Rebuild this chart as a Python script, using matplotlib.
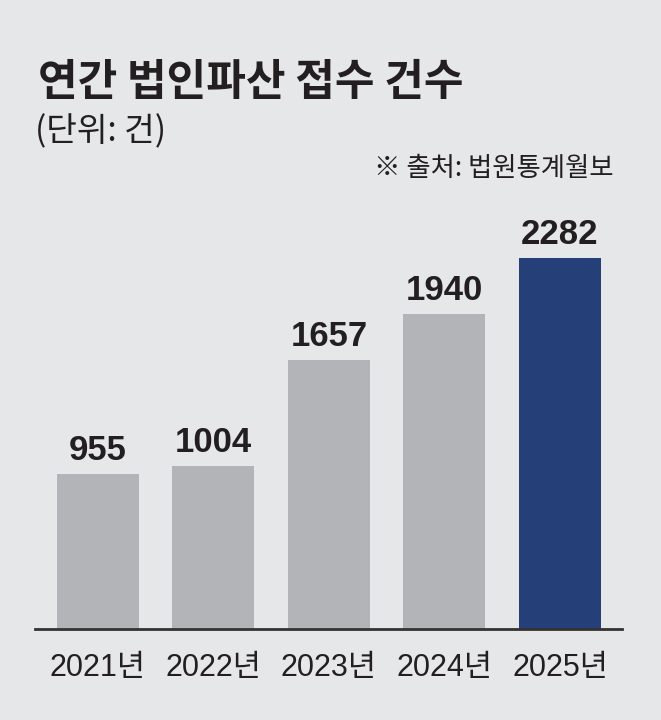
import numpy as np
import matplotlib.pyplot as plt

# data
years = ["2021년", "2022년", "2023년", "2024년", "2025년"]
counts = [955, 1004, 1657, 1940, 2282]
highlight = "2025년"

BG = "#e6e7e9"
GRAY = "#b3b4b7"
NAVY = "#253f78"
INK = "#231f20"

plt.rcParams["font.family"] = ["Noto Sans CJK KR", "DejaVu Sans"]

fig = plt.figure(figsize=(6.61, 7.2), dpi=100, facecolor=BG)
# axes spans the baseline width, bottom at the baseline
ax = fig.add_axes([35 / 661, 91 / 720, 587 / 661, 429 / 720])
ax.set_facecolor(BG)

x = np.arange(len(years))
colors = [NAVY if y == highlight else GRAY for y in years]
bars = ax.bar(x, counts, width=0.71, color=colors, zorder=2)

ax.set_xlim(-0.545, 4.537)
ax.set_ylim(0, 2638)

for rect, v in zip(bars, counts):
    ax.annotate(f"{v}", (rect.get_x() + rect.get_width() / 2, rect.get_height()),
                xytext=(0, 5), textcoords="offset points", ha="center", va="bottom",
                fontsize=25, fontweight="bold", color=INK,
                family=["Liberation Sans", "DejaVu Sans"])

ax.set_xticks(x)
ax.set_xticklabels(years, family=["Liberation Sans", "Noto Sans CJK KR"],
                   fontsize=22, color=INK)
ax.tick_params(axis="x", length=0, pad=17)
ax.set_yticks([])
for s in ["top", "right", "left"]:
    ax.spines[s].set_visible(False)
ax.spines["bottom"].set_color("#333333")
ax.spines["bottom"].set_linewidth(2)

fig.text(38 / 661, 1 - 60 / 720, "연간 법인파산 접수 건수", fontsize=31,
         fontweight="heavy", color=INK, va="top", ha="left")
fig.text(35 / 661, 1 - 114 / 720, "(단위: 건)", fontsize=24, fontweight="light",
         color=INK, va="top", ha="left")
fig.text(614 / 661, 1 - 155 / 720, "※ 출처: 법원통계월보", fontsize=19,
         fontweight="light", color=INK, va="top", ha="right")

fig.savefig("out.png", dpi=100, facecolor=BG)
